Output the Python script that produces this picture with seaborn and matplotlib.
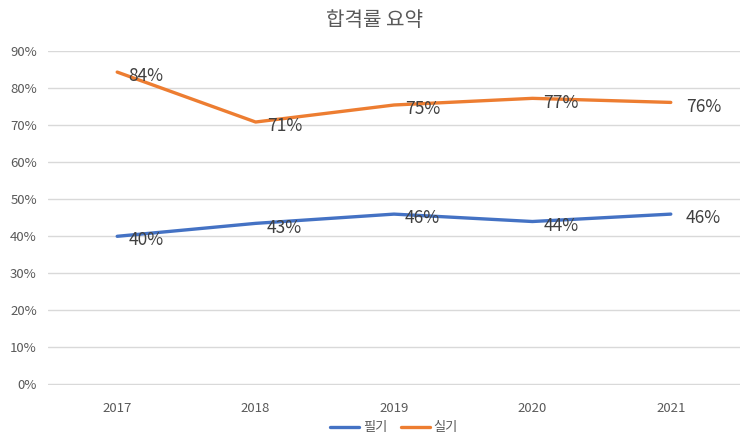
import pandas as pd
import matplotlib
matplotlib.use('Agg')
import matplotlib.pyplot as plt
import seaborn as sns
from matplotlib.ticker import PercentFormatter

# --- data ---
years = ['2017', '2018', '2019', '2020', '2021']
written = [0.399, 0.434, 0.459, 0.439, 0.459]   # 필기
practical = [0.843, 0.708, 0.754, 0.772, 0.761]  # 실기
written_labels = ['40%', '43%', '46%', '44%', '46%']
practical_labels = ['84%', '71%', '75%', '77%', '76%']

sns.set_style('white')
plt.rcParams['font.family'] = ['Noto Sans CJK KR', 'DejaVu Sans']

df = pd.DataFrame({
    'pos': list(range(len(years))) * 2,
    'rate': written + practical,
    'kind': ['필기'] * len(years) + ['실기'] * len(years),
})

fig = plt.figure(figsize=(7.49, 4.46), dpi=100)
ax = fig.add_axes([48 / 749, 1 - 385 / 446, 692 / 749, 334 / 446])

palette = {'필기': '#4472C4', '실기': '#ED7D31'}
sns.lineplot(data=df, x='pos', y='rate', hue='kind', palette=palette,
             linewidth=2.4, ax=ax, legend=True)

# data labels, right of each point
last = len(years) - 1
for labels, vals in [(written_labels, written), (practical_labels, practical)]:
    for i, (lab, v) in enumerate(zip(labels, vals)):
        ax.annotate(lab, (i, v), xytext=(8 if i < last else 11, -3),
                    textcoords='offset points', ha='left', va='center',
                    fontsize=12.5, color='#404040')

ax.set_xlim(-0.5, len(years) - 0.5)
ax.set_ylim(-0.003, 0.9)
ax.set_yticks([i / 10 for i in range(10)])
ax.yaxis.set_major_formatter(PercentFormatter(1.0, decimals=0))
ax.set_xticks(range(len(years)))
ax.set_xticklabels(years)
ax.grid(axis='y', color='#D9D9D9', linewidth=1)
ax.set_axisbelow(True)
for s in ax.spines.values():
    s.set_visible(False)
ax.tick_params(axis='both', length=0, labelsize=9.5, colors='#595959', pad=8)
ax.tick_params(axis='x', pad=12)
ax.set_xlabel('')
ax.set_ylabel('')

fig.text(0.5, 1 - 20 / 446, '합격률 요약', ha='center', va='center',
         fontsize=14.5, color='#595959')

handles, lbls = ax.get_legend_handles_labels()
ax.legend(handles, lbls, loc='center', bbox_to_anchor=(0.5, -(428 - 385) / 334),
          ncol=2, frameon=False, fontsize=9.5, handlelength=2.2,
          columnspacing=1.0, handletextpad=0.3, labelcolor='#595959')

fig.savefig('out.png', dpi=100)
